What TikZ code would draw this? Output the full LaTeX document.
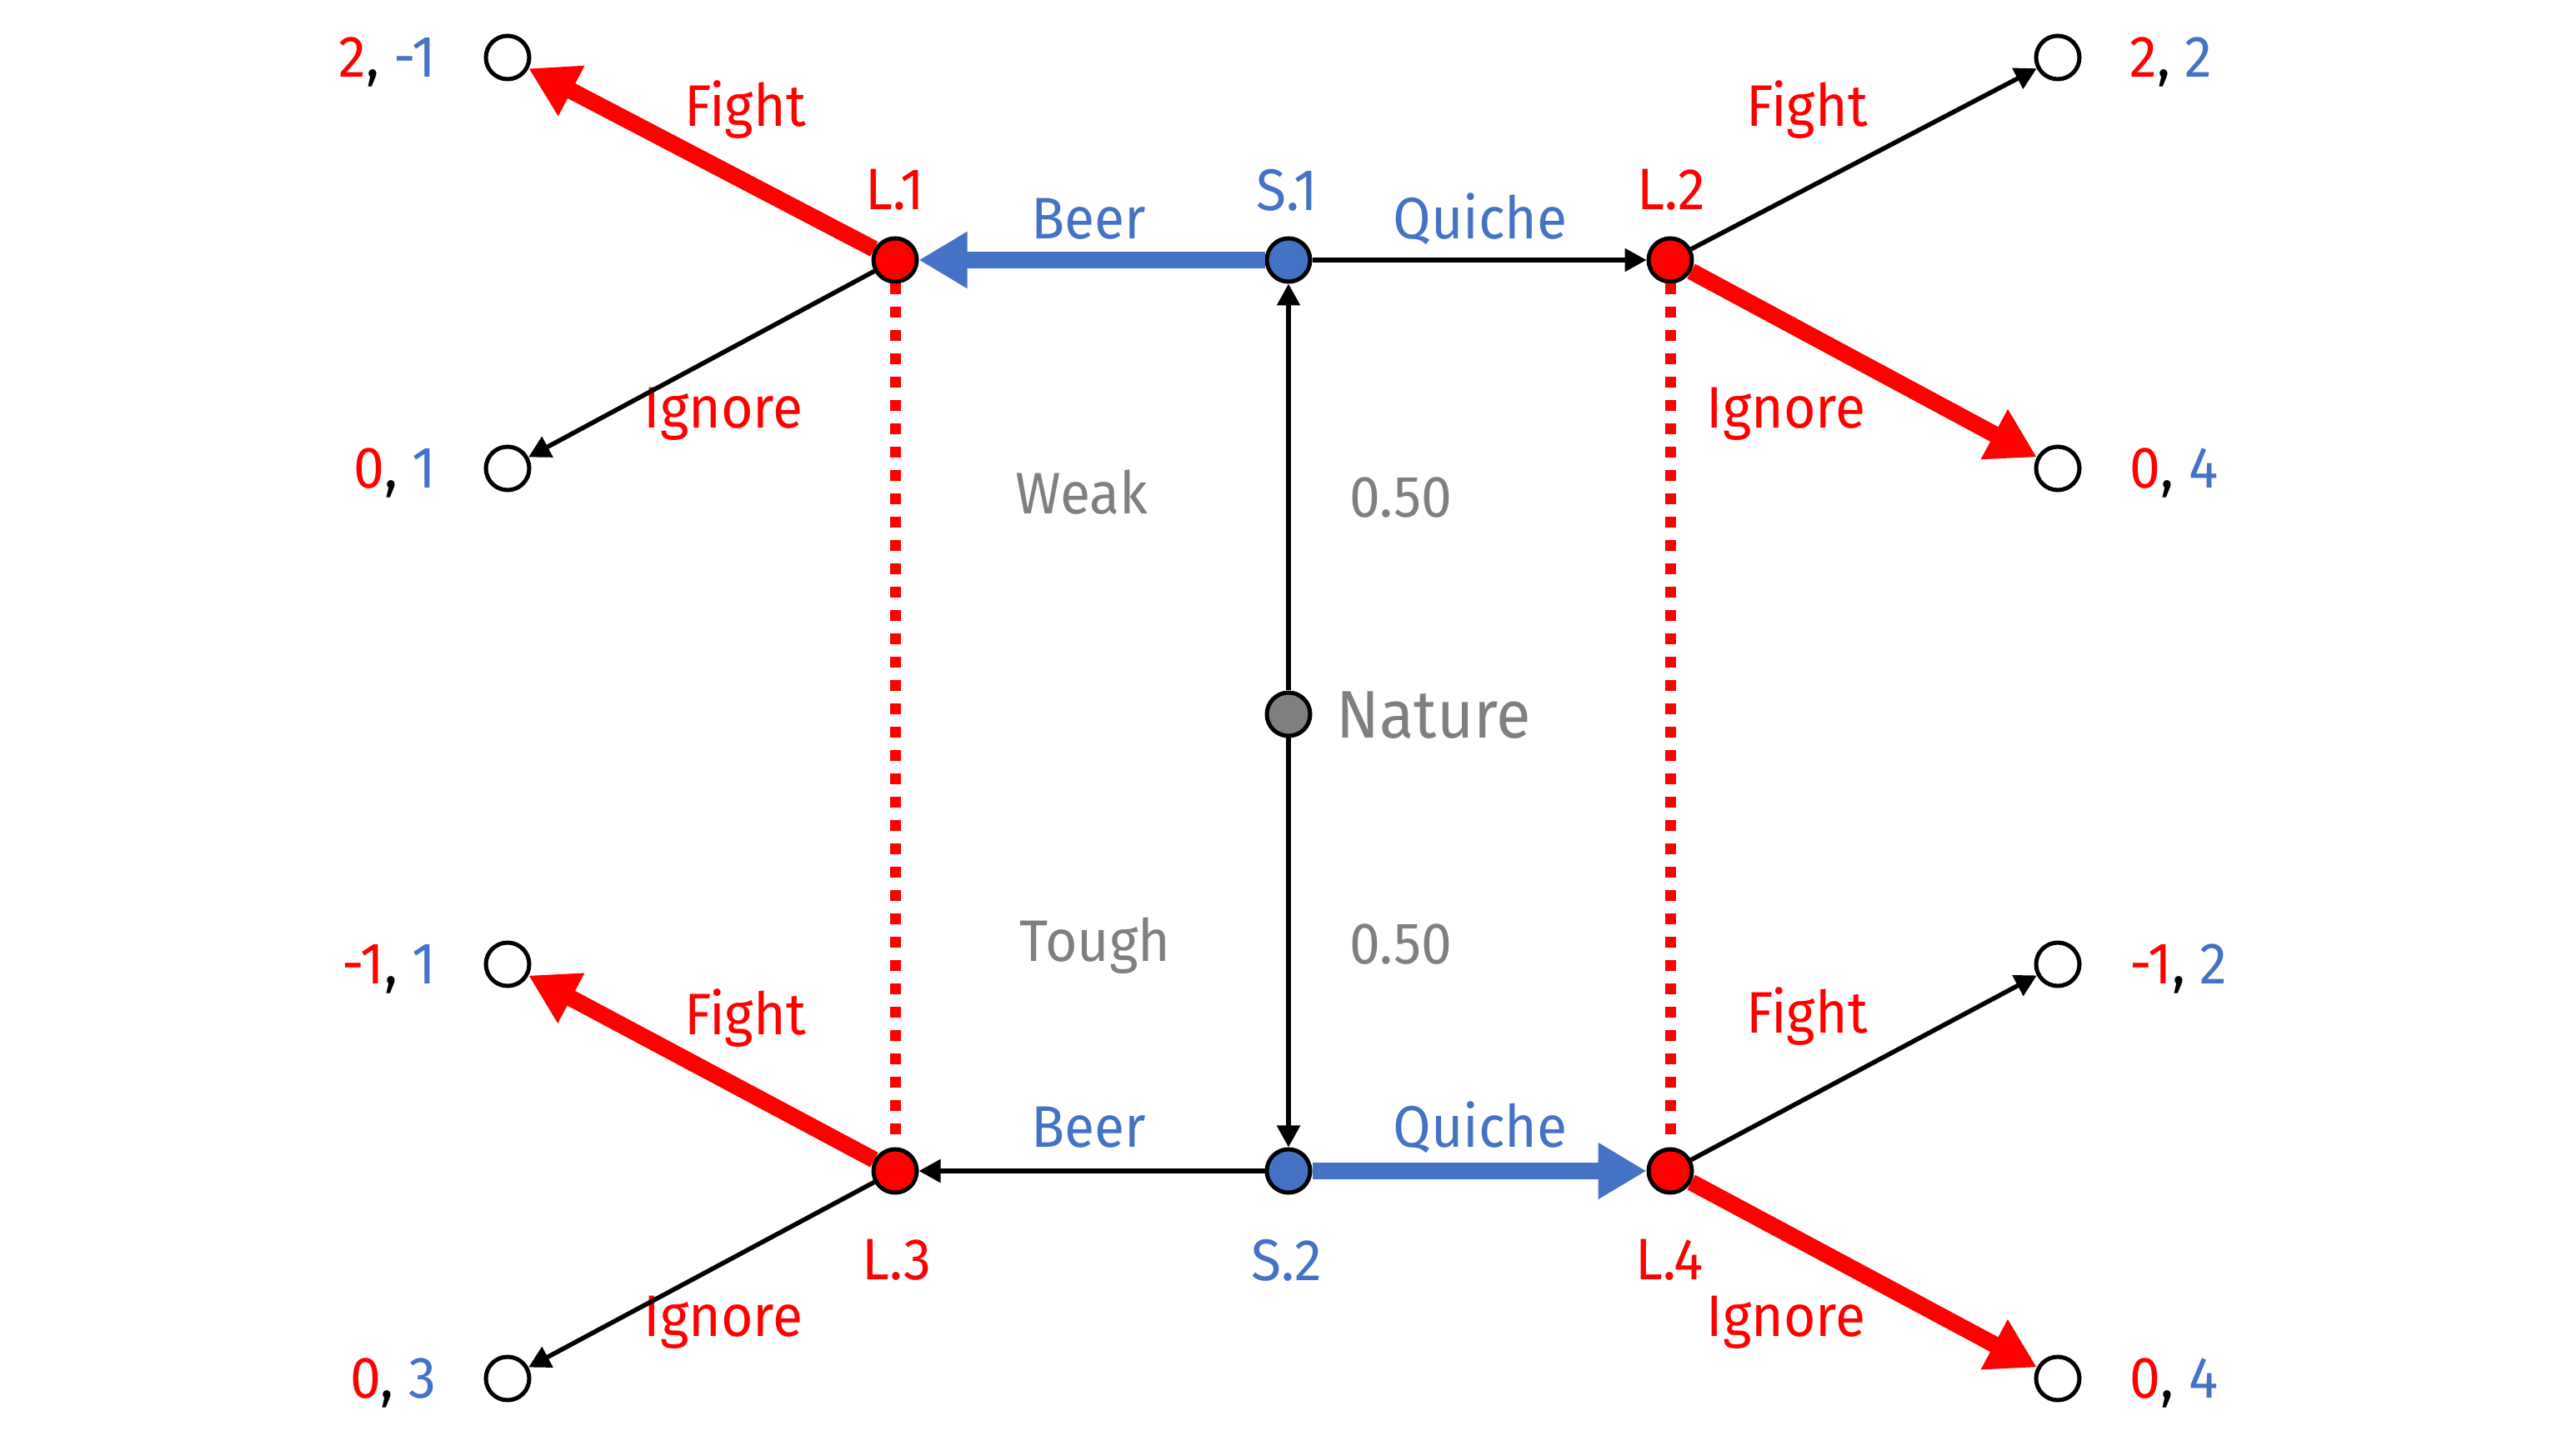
\documentclass[tikz,border=0pt]{standalone}
\usepackage{fontspec}
\setmainfont{Fira Sans}[FakeStretch=0.94]
\usetikzlibrary{arrows.meta}
\definecolor{pred}{HTML}{FF0000}
\definecolor{pblue}{HTML}{4472C4}
\definecolor{pgrey}{HTML}{7F7F7F}
\newcommand\payoff[2]{\textcolor{pred}{#1}, \textcolor{pblue}{#2}}

\begin{document}
\begin{tikzpicture}[x=1cm,y=1cm,line width=.055cm,font=\fontsize{20}{24}\selectfont,
  dec/.style={circle,draw,line width=.05cm,minimum size=.52cm,inner sep=0pt},
  term/.style={dec,fill=white},
  pay/.style={inner sep=0pt,text depth=0pt},
  choice/.style={-{Triangle[length=.26cm,width=.27cm]}},
  eqm/.style={line width=.2cm,-{Triangle[length=.58cm,width=.64cm]}},
  info/.style={pred,line width=.13cm,dash pattern=on .13cm off .15cm}]
\useasboundingbox (0,0) rectangle (30.8,17.46);
% decision nodes
\node[dec,fill=pred] (l1) at (10.74,14.34) {};
\node[dec,fill=pblue] (s1) at (15.46,14.34) {};
\node[dec,fill=pred] (l2) at (20.04,14.34) {};
\node[dec,fill=pgrey] (nat) at (15.46,8.89) {};
\node[dec,fill=pred] (l3) at (10.74,3.41) {};
\node[dec,fill=pblue] (s2) at (15.46,3.41) {};
\node[dec,fill=pred] (l4) at (20.04,3.41) {};
% end nodes
\node[term] (t1) at (6.09,16.77) {};
\node[term] (t2) at (6.09,11.84) {};
\node[term] (t3) at (6.09,5.89) {};
\node[term] (t4) at (6.09,0.92) {};
\node[term] (t5) at (24.69,16.77) {};
\node[term] (t6) at (24.69,11.84) {};
\node[term] (t7) at (24.69,5.89) {};
\node[term] (t8) at (24.69,0.92) {};
% payoffs
\node[pay,anchor=east] (p1) at (5.26,16.77) {\payoff{2}{-1}};
\node[pay,anchor=east] (p2) at (5.26,11.84) {\payoff{0}{1}};
\node[pay,anchor=east] (p3) at (5.26,5.89) {\payoff{-1}{1}};
\node[pay,anchor=east] (p4) at (5.26,0.92) {\payoff{0}{3}};
\node[pay,anchor=west] (p5) at (25.53,16.77) {\payoff{2}{2}};
\node[pay,anchor=west] (p6) at (25.53,11.84) {\payoff{0}{4}};
\node[pay,anchor=west] (p7) at (25.53,5.89) {\payoff{-1}{2}};
\node[pay,anchor=west] (p8) at (25.53,0.92) {\payoff{0}{4}};
% labels
\node[pred] (nl1) at (10.74,15.18) {L.1};
\node[pblue] (ns1) at (15.44,15.18) {S.1};
\node[pred] (nl2) at (20.05,15.18) {L.2};
\node[pred] (nl3) at (10.76,2.34) {L.3};
\node[pblue] (ns2) at (15.44,2.34) {S.2};
\node[pred] (nl4) at (20.03,2.34) {L.4};
\node[pgrey,anchor=west,font=\fontsize{23}{27}\selectfont] (nnat) at (15.89,8.88) {Nature};
\node[pgrey] (weak) at (12.98,11.55) {Weak};
\node[pgrey] (tough) at (13.14,6.11) {Tough};
\node[pgrey] (pr1) at (16.81,11.49) {0.50};
\node[pgrey] (pr2) at (16.81,6.13) {0.50};
\node[pblue] (b1) at (13.06,14.83) {Beer};
\node[pblue] (q1) at (17.76,14.83) {Quiche};
\node[pblue] (b2) at (13.06,3.93) {Beer};
\node[pblue] (q2) at (17.76,3.93) {Quiche};
\node[pred] (f1) at (8.94,16.14) {Fight};
\node[pred] (i1) at (8.68,12.49) {Ignore};
\node[pred] (f2) at (21.68,16.14) {Fight};
\node[pred] (i2) at (21.43,12.49) {Ignore};
\node[pred] (f3) at (8.94,5.24) {Fight};
\node[pred] (i3) at (8.68,1.59) {Ignore};
\node[pred] (f4) at (21.68,5.26) {Fight};
\node[pred] (i4) at (21.43,1.59) {Ignore};
% moves
\draw[choice] (nat) -- (s1);
\draw[choice] (nat) -- (s2);
\draw[choice] (s1) -- (l2);
\draw[choice] (s2) -- (l3);
\draw[eqm,pblue] (s1) -- (l1);
\draw[eqm,pblue] (s2) -- (l4);
\draw[eqm,pred] (l1) -- (t1);
\draw[choice] (l1) -- (t2);
\draw[eqm,pred] (l3) -- (t3);
\draw[choice] (l3) -- (t4);
\draw[choice] (l2) -- (t5);
\draw[eqm,pred] (l2) -- (t6);
\draw[choice] (l4) -- (t7);
\draw[eqm,pred] (l4) -- (t8);
% information sets
\draw[info] (l1) -- (l3);
\draw[info] (l2) -- (l4);
\end{tikzpicture}
\end{document}
